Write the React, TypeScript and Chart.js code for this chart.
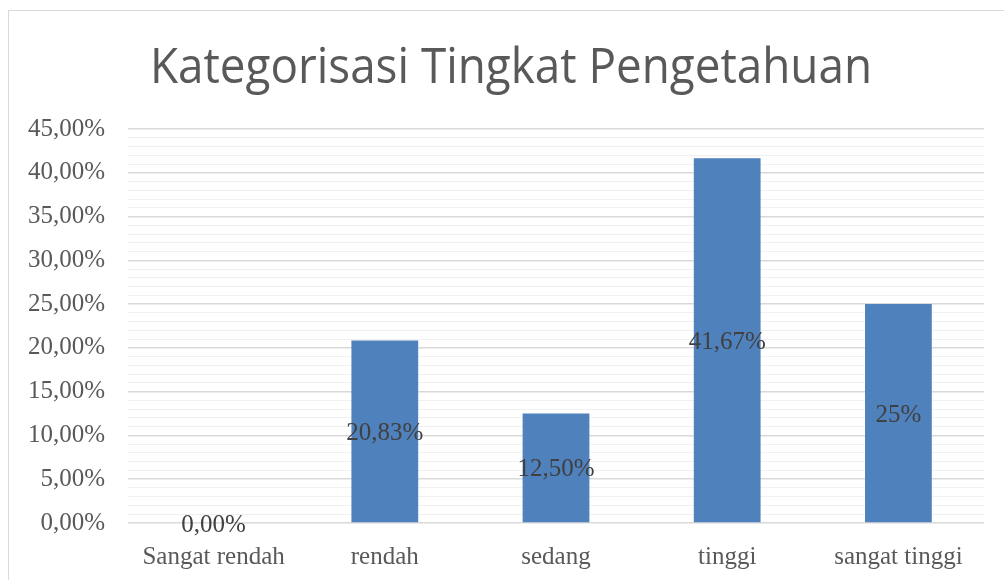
import React, { useEffect, useRef } from "react";
import { Chart, registerables } from "chart.js";

Chart.register(...registerables);

const categories = ["Sangat rendah", "rendah", "sedang", "tinggi", "sangat tinggi"];
const values = [0, 20.83, 12.5, 41.67, 25];
const valueLabels = ["0,00%", "20,83%", "12,50%", "41,67%", "25%"];
const chartTitle = "Kategorisasi Tingkat Pengetahuan";
const yMax = 45;

const titlePlugin = {
  id: "customTitle",
  afterDraw(chart: any) {
    const ctx = chart.ctx;
    ctx.save();
    ctx.font = '49px "Open Sans"';
    ctx.fillStyle = "#595959";
    ctx.textAlign = "center";
    ctx.textBaseline = "alphabetic";
    ctx.fillText(chartTitle, 511, 83, 722);
    ctx.restore();
  },
};

const labelPlugin = {
  id: "valueLabels",
  afterDatasetsDraw(chart: any) {
    const ctx = chart.ctx;
    const meta = chart.getDatasetMeta(0);
    ctx.save();
    ctx.font = '25px "Liberation Serif"';
    ctx.fillStyle = "#404040";
    ctx.textAlign = "center";
    ctx.textBaseline = "middle";
    meta.data.forEach((el: any, i: number) => {
      const y = (el.y + el.base) / 2 + 2;
      ctx.fillText(valueLabels[i], el.x, y);
    });
    ctx.restore();
  },
};

export default function App() {
  const ref = useRef<HTMLCanvasElement | null>(null);
  useEffect(() => {
    if (!ref.current) return;
    const chart = new Chart(ref.current, {
      type: "bar",
      data: {
        labels: categories,
        datasets: [
          {
            data: values,
            backgroundColor: "#4F81BD",
            borderWidth: 0,
            categoryPercentage: 1,
            barPercentage: 0.39,
          },
        ],
      },
      options: {
        animation: false,
        responsive: false,
        maintainAspectRatio: false,
        layout: { padding: { top: 129, right: 20, left: 0, bottom: 0 } },
        plugins: {
          legend: { display: false },
          title: { display: false },
          tooltip: { enabled: false },
        },
        scales: {
          x: {
            grid: { display: false },
            border: { display: false },
            ticks: {
              color: "#595959",
              font: { family: "Liberation Serif", size: 25 },
              padding: 11,
              maxRotation: 0,
              autoSkip: false,
            },
            afterFit: (s: any) => {
              s.height = 57;
            },
          },
          y: {
            min: 0,
            max: yMax,
            border: { display: false },
            grid: {
              drawTicks: false,
              color: (c: any) => (c.tick && c.tick.value % 5 === 0 ? "#d9d9d9" : "#f0f0f0"),
              lineWidth: (c: any) => (c.tick && c.tick.value % 5 === 0 ? 1.5 : 1),
            },
            ticks: {
              stepSize: 1,
              autoSkip: false,
              color: "#595959",
              font: { family: "Liberation Serif", size: 25 },
              padding: 23,
              callback: (v: any) =>
                Number(v) % 5 === 0 ? Number(v).toFixed(2).replace(".", ",") + "%" : "",
            },
            afterFit: (s: any) => {
              s.width = 128;
            },
          },
        },
      },
      plugins: [titlePlugin, labelPlugin],
    });
    return () => chart.destroy();
  }, []);

  return (
    <div style={{ position: "fixed", left: 0, top: 0, width: 1004, height: 580, background: "#fff", overflow: "hidden" }}>
      <div
        style={{
          position: "absolute",
          left: 8,
          top: 10,
          width: 1010,
          height: 600,
          border: "1px solid #d9d9d9",
          boxSizing: "border-box",
        }}
      />
      <canvas ref={ref} width={1004} height={580} style={{ position: "absolute", left: 0, top: 0 }} />
    </div>
  );
}
